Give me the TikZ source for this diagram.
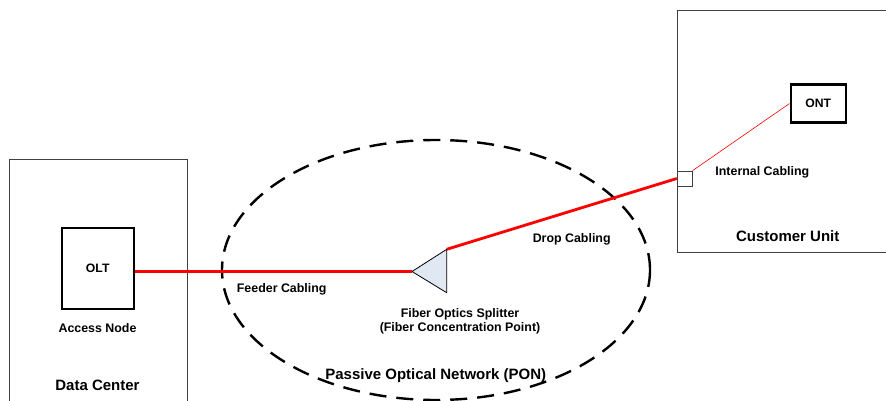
\documentclass[tikz,border=0pt]{standalone}
\usepackage{fontspec}
\setmainfont{Liberation Sans}
\usetikzlibrary{positioning}
\definecolor{splitfill}{RGB}{224,232,243}

\begin{document}
\begin{tikzpicture}[x=1pt,y=-1pt,
	lbl/.style={font=\bfseries\fontsize{12.4}{14}\selectfont},
	biglbl/.style={font=\bfseries\fontsize{15}{17}\selectfont},
	unit/.style={draw=black!75,line width=0.9pt},
	dev/.style={draw,line width=2.4pt,inner sep=0pt,font=\bfseries\fontsize{12.2}{14}\selectfont},
	fiber/.style={red,line width=3.6pt}]
	\useasboundingbox (0,0) rectangle (886,401);
	\clip (0,0) rectangle (886,401);

	% sites
	\draw[unit] (9,159) rectangle (187,420);
	\draw[unit] (677,10) rectangle (900,252);

	% passive network
	\draw[line width=2.4pt,dash pattern=on 17pt off 10pt] (436,270) ellipse (214pt and 130pt);

	% devices
	\node[dev,minimum width=72pt,minimum height=81pt] (olt) at (97.7,268.3) {OLT};
	\node[dev,minimum width=55pt,minimum height=38pt] (ont) at (818.2,103.5) {ONT};
	\node[draw=black!75,line width=0.8pt,minimum size=15pt,inner sep=0pt] (port) at (684.7,178.5) {};

	% splitter
	\coordinate (tip) at (412,271.5);
	\coordinate (top) at (446.7,249.3);
	\coordinate (bot) at (446.7,292.7);
	\draw[fill=splitfill,line width=0.8pt] (tip) -- (top) -- (bot) -- cycle;

	% cabling
	\draw[fiber] (olt.east |- tip) -- (tip);
	\draw[red,line width=2.8pt] (top) -- (port.west);
	\draw[red,line width=0.6pt] (port.north east) -- (ont.west);

	% labels
	\node[lbl] (accnode) at (97.5,327.7) {Access Node};
	\node[biglbl] (dc) at (97.5,385) {Data Center};
	\node[lbl] (feeder) at (281.7,289.3) {Feeder Cabling};
	\node[lbl] (drop) at (571.7,239.3) {Drop Cabling};
	\node[lbl,align=center] (split) at (460,321.5) {Fiber Optics Splitter\\(Fiber Concentration Point)};
	\node[biglbl] (pon) at (435.8,376) {Passive Optical Network (PON)};
	\node[lbl] (internal) at (762.3,172.7) {Internal Cabling};
	\node[biglbl] (cu) at (787.7,235.7) {Customer Unit};
\end{tikzpicture}
\end{document}
